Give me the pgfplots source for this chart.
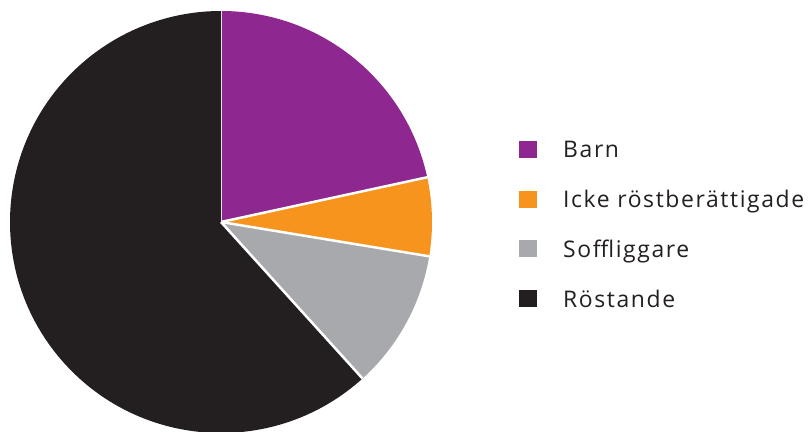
\documentclass[border=0pt]{standalone}
\usepackage{fontspec}
\setmainfont{Open Sans}[LetterSpace=7]
\usepackage{pgfplots}
\usepackage{pgfplotstable}
\pgfplotsset{compat=1.18}

\definecolor{barn}{HTML}{8E278F}
\definecolor{icke}{HTML}{F7941D}
\definecolor{soff}{HTML}{A7A9AC}
\definecolor{rost}{HTML}{231F20}

% andelar i procent, medurs fran klockan tolv
\pgfplotstableread[col sep=comma]{
name,value,col
Barn,21.6,barn
Icke röstberättigade,6.0,icke
Soffliggare,10.7,soff
Röstande,61.7,rost
}\piedata

\begin{document}
\begin{tikzpicture}
\begin{axis}[
    scale only axis,
    width=809bp, height=432bp,
    xmin=0, xmax=809, ymin=0, ymax=432,
    hide axis,
    clip=false]
\coordinate (bl) at (axis cs:0,0);
\coordinate (tr) at (axis cs:809,432);
\def\cx{221}\def\cy{210}\def\rad{211}
\gdef\start{90}
\pgfplotstablegetrowsof{\piedata}
\pgfmathtruncatemacro{\last}{\pgfplotsretval-1}
\foreach \i in {0,...,\last}{
  \pgfplotstablegetelem{\i}{value}\of{\piedata}
  \let\val\pgfplotsretval
  \pgfplotstablegetelem{\i}{col}\of{\piedata}
  \let\slicecol\pgfplotsretval
  \pgfmathsetmacro{\stop}{\start-3.6*\val}
  \edef\cmd{%
    \noexpand\fill[\slicecol] (axis cs:\cx,\cy) -- ++(\start:\rad bp) arc[start angle=\start, end angle=\stop, radius=\rad bp] -- cycle;
    \noexpand\draw[white, line width=2.5bp] (axis cs:\cx,\cy) -- ++(\start:\rad bp);}%
  \cmd
  \global\let\start\stop
}
% legend
\foreach \i in {0,...,\last}{
  \pgfplotstablegetelem{\i}{name}\of{\piedata}
  \let\entry\pgfplotsretval
  \pgfplotstablegetelem{\i}{col}\of{\piedata}
  \let\slicecol\pgfplotsretval
  \pgfmathsetmacro{\yb}{274-49.7*\i}
  \pgfmathsetmacro{\yt}{\yb+17}
  \edef\cmd{%
    \noexpand\fill[\slicecol] (axis cs:519,\yb) rectangle (axis cs:537,\yt);
    \noexpand\node[anchor=base west, inner sep=0pt, text=rost, font=\noexpand\fontsize{23}{27}\noexpand\selectfont] at (axis cs:563,\yb) {\entry};}%
  \cmd
}
\end{axis}
\pgfresetboundingbox
\path[use as bounding box] (bl) rectangle (tr);
\end{tikzpicture}
\end{document}
